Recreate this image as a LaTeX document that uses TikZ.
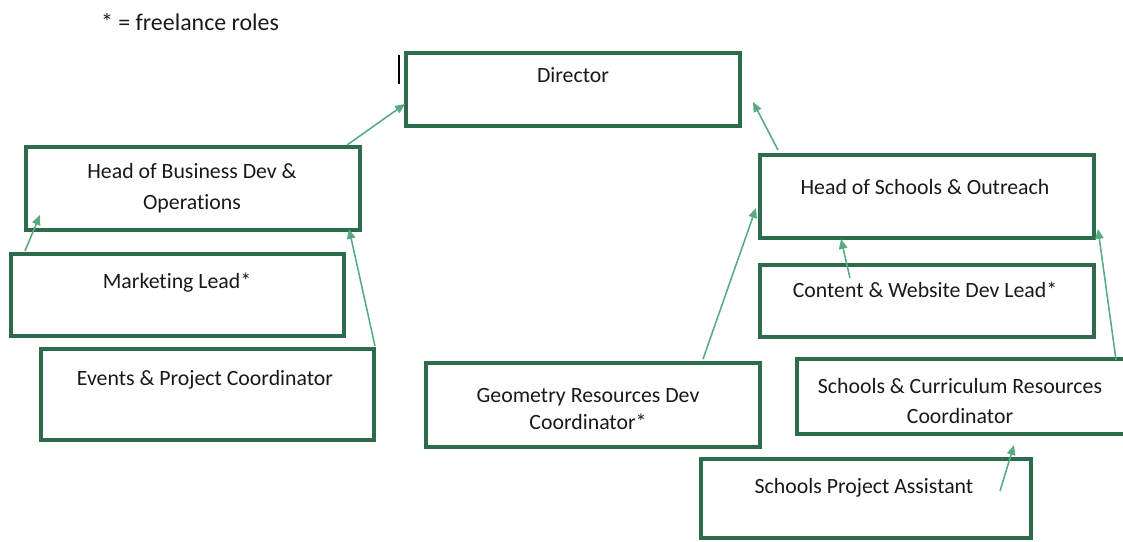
\documentclass[tikz,border=0pt]{standalone}
\usepackage{fontspec}
\setmainfont{Carlito}[Ligatures=NoCommon]
\usetikzlibrary{arrows.meta,calc}
\definecolor{boxgreen}{RGB}{44,108,74}
\definecolor{linkgreen}{RGB}{88,170,130}
\tikzset{
  role/.style={draw=boxgreen,line width=2.8pt,rectangle,inner sep=0pt},
  title/.style={text=black!90,font=\fontsize{15.5}{22}\selectfont,align=center,inner sep=0pt},
  link/.style={draw=linkgreen,line width=1.1pt,-{Triangle[length=7pt,width=6pt]}}
}
\begin{document}
\begin{tikzpicture}[x=0.025cm,y=-0.025cm]
  \fill[white] (0,0) rectangle (1123,541);
  \useasboundingbox (0,0) rectangle (1123,541);
  \node[title,font=\fontsize{17}{20}\selectfont] (free) at (190,22) {* = freelance roles};
  \draw[line width=1pt] (399,55) -- (399,84);
  % boxes
  \node[role,minimum width=8.35cm,minimum height=1.825cm] (dir) at (573,89.5) {};
  \node[role,minimum width=8.35cm,minimum height=2.075cm] (bus) at (193,188.5) {};
  \node[role,minimum width=8.325cm,minimum height=2.05cm] (mkt) at (177.5,295) {};
  \node[role,minimum width=8.325cm,minimum height=2.275cm] (evt) at (207.5,394.5) {};
  \node[role,minimum width=8.35cm,minimum height=2.075cm] (sch) at (927,196.5) {};
  \node[role,minimum width=8.35cm,minimum height=1.8cm] (web) at (927,301) {};
  \node[role,minimum width=8.35cm,minimum height=2.1cm] (geo) at (593,405) {};
  \node[role,minimum width=8.325cm,minimum height=1.875cm] (cur) at (963.5,396.5) {};
  \node[role,minimum width=8.25cm,minimum height=1.975cm] (ast) at (866,498.5) {};
  % titles
  \node[title] (dirtext) at (573,75) {Director};
  \node[title] (bustext) at (192,188) {Head of Business Dev \&\\Operations};
  \node[title] (mkttext) at (177,283) {Marketing Lead*};
  \node[title] (evttext) at (205,380) {Events \& Project Coordinator};
  \node[title] (schtext) at (925,187) {Head of Schools \& Outreach};
  \node[title] (webtext) at (925,290) {Content \& Website Dev Lead*};
  \node[title,font=\fontsize{15.5}{19.2}\selectfont] (geotext) at (588,409) {Geometry Resources Dev\\Coordinator*};
  \node[title] (curtext) at (960,401) {Schools \& Curriculum Resources\\Coordinator};
  \node[title] (asttext) at (864,488) {Schools Project Assistant};
  \begin{scope}[link]
    \draw ($(bus.north east)+(-15,0)$) to ($(dir.south west)+(1,-24)$);
    \draw ($(mkt.north west)+(16,-1)$) to ($(bus.south west)+(16,-17)$);
    \draw ($(evt.north east)+(-1,-1)$) to ($(bus.south east)+(-13,-3)$);
    \draw ($(sch.north west)+(20,-3)$) to ($(dir.south east)+(11,-26)$);
    \draw ($(web.north west)+(92,15)$) to ($(sch.south west)+(83,-1)$);
    \draw ($(geo.north east)+(-59,-2)$) to ($(sch.west)+(-2,11.5)$);
    \draw ($(cur.north east)+(-16,3)$) to ($(sch.south east)+(2,-11)$);
    \draw ($(ast.north east)+(-33,34)$) to ($(cur.south east)+(-118,9)$);
  \end{scope}
\end{tikzpicture}
\end{document}
